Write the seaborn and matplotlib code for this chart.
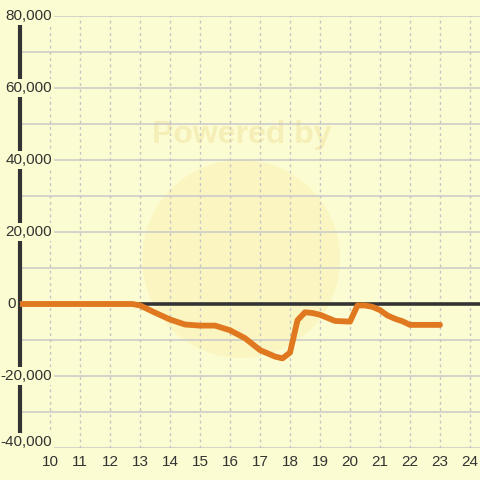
import matplotlib
matplotlib.use("Agg")
import matplotlib.pyplot as plt
import seaborn as sns
import pandas as pd
from matplotlib.patches import Ellipse

hours = [9, 12.75, 13, 13.5, 14, 14.5, 15, 15.5, 16, 16.5, 17, 17.5, 17.75, 18,
         18.25, 18.5, 18.75, 19, 19.5, 20, 20.25, 20.5, 20.75, 21, 21.25, 21.5,
         21.75, 22, 22.5, 23]
values = [0, 0, -400, -2400, -4300, -5700, -6000, -6000, -7300, -9500, -12800,
          -14600, -15100, -13500, -4500, -2300, -2500, -3000, -4700, -4900, -400,
          -400, -800, -1700, -3200, -4100, -4800, -5800, -5800, -5800]
x_ticks = list(range(10, 25))
y_ticks = [-40000, -20000, 0, 20000, 40000, 60000, 80000]

bg = "#fcfcd2"
sns.set_theme(style="white")
plt.rcParams['font.family'] = ['Liberation Sans', 'DejaVu Sans']

fig = plt.figure(figsize=(4.8, 4.8), dpi=100, facecolor=bg)
ax = fig.add_axes([20/480, 32/480, 460/480, 432/480])
ax.set_facecolor(bg)
ax.set_xlim(9.0, 24.333)
ax.set_ylim(-40000, 80000)
for s in ax.spines.values():
    s.set_visible(False)
ax.set_xticks([])
ax.set_yticks([])

# watermark
ax.add_patch(Ellipse((16.37, 12500), 6.6, 55000, facecolor="#fbf2b4", edgecolor="none",
                     alpha=0.55, zorder=0.5))
ax.text(16.4, 47000, "Powered by", ha="center", va="center", fontsize=23,
        fontweight="bold", color="#f4ebb0", alpha=0.8, zorder=0.6)

# grid
for v in range(-40000, 80001, 10000):
    ax.axhline(v, color="#c8c8c8", lw=1.1, zorder=1)
for xv in x_ticks:
    ax.axvline(xv, color="#c4c4c4", lw=1, ls=(0, (2, 2.5)), zorder=1)

ax.axhline(0, color="#333333", lw=2.6, zorder=2)
ax.axvline(9.0, color="#333333", lw=3, zorder=2, clip_on=False)

df = pd.DataFrame({"hour": hours, "value": values})
sns.lineplot(data=df, x="hour", y="value", ax=ax, color="#e07820", lw=4.2,
             zorder=3, solid_capstyle="round", solid_joinstyle="round")
ax.set_xlabel("")
ax.set_ylabel("")

for yv in y_ticks:
    if yv == 0:
        ax.text(8.85, yv, "0", ha="right", va="center", fontsize=11, color="#333333",
                zorder=4, clip_on=False)
        continue
    ypos = yv + 1600 if yv == -40000 else yv
    ax.text(10.07, ypos, f"{yv:,}", ha="right", va="center", fontsize=11, color="#333333",
            zorder=4, clip_on=False,
            bbox=dict(boxstyle="square,pad=0.12", facecolor=bg, edgecolor="none"))
for xv in x_ticks:
    ax.text(xv, -44000, str(xv), ha="center", va="center", fontsize=11, color="#333333",
            clip_on=False)

fig.savefig("out.png", dpi=100, facecolor=bg)
